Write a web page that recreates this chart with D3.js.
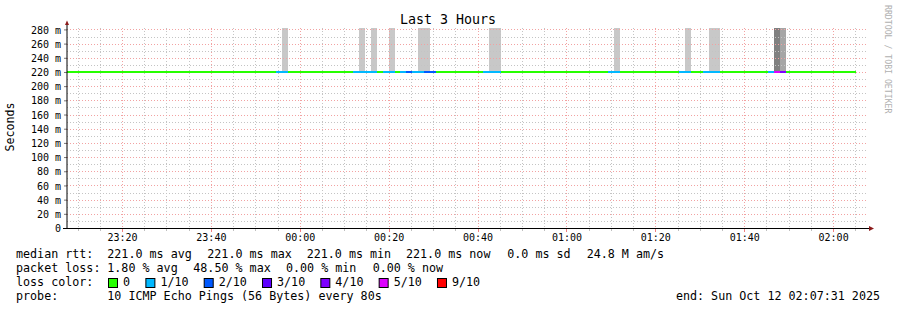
<!DOCTYPE html>
<html lang="en">
<head>
<meta charset="UTF-8">
<title>Last 3 Hours</title>
<script src="https://d3js.org/d3.v7.min.js"></script>
<style>
  body { margin: 0; background: #fff; }
  svg text { font-family: "DejaVu Sans Mono", monospace; white-space: pre; fill: #000; }
</style>
</head>
<body>
<div id="chart"></div>
<script>
// ---- data ----
const startTime = "23:07:31";
const endTime = "02:07:31";
const dataEnd = "02:05:10";
const medianRtt = 221; // ms
const yMax = 282;
const yTicks = [0, 20, 40, 60, 80, 100, 120, 140, 160, 180, 200, 220, 240, 260, 280];
const xTickLabels = ["23:20", "23:40", "00:00", "00:20", "00:40", "01:00", "01:20", "01:40", "02:00"];

// median line, coloured by loss level
const segStart = ["23:07:31", "23:54:40", "23:57:22", "00:12:04", "00:17:24", "00:18:49",
                  "00:21:27", "00:22:34", "00:23:55", "00:25:16", "00:27:58", "00:30:40",
                  "00:41:15", "00:45:17", "01:09:22", "01:12:04", "01:25:21", "01:28:03",
                  "01:30:45", "01:34:34", "01:45:22", "01:46:43", "01:48:04", "01:49:25"];
const segLoss = [0, 1, 0, 1, 0, 1, 0, 1, 2, 1, 2, 0, 1, 0, 1, 0, 1, 0, 1, 0, 1, 5, 4, 0];

// smoke (spread of pings), goes off the top of the graph
const smokeStart = ["23:56:01", "00:13:20", "00:16:02", "00:20:05", "00:26:37", "00:42:35",
                    "01:10:43", "01:26:42", "01:32:06", "01:46:43", "01:48:04"];
const smokeEnd   = ["23:57:22", "00:14:41", "00:17:24", "00:21:27", "00:29:19", "00:45:17",
                    "01:12:04", "01:28:03", "01:34:34", "01:48:04", "01:49:25"];
const smokeTop = 300;
const smokeShade = ["#c8c8c8", "#c8c8c8", "#c8c8c8", "#c8c8c8", "#c8c8c8", "#c8c8c8",
                    "#c8c8c8", "#c8c8c8", "#c8c8c8", "#808080", "#a6a6a6"];

const lossLabels = ["0", "1/10", "2/10", "3/10", "4/10", "5/10", "9/10"];
const lossColors = ["#26ff00", "#00b8ff", "#0059ff", "#5e00ff", "#7e00ff", "#dd00ff", "#ff0000"];

const rttItems = ["median rtt:", "221.0 ms avg", "221.0 ms max", "221.0 ms min", "221.0 ms now", "0.0 ms sd", "24.8 M am/s"];
const rttPos = [16, 107.3, 207.3, 306.7, 406, 507.3, 586.7];
const lossItems = ["packet loss:", "1.80 % avg", "48.50 % max", "0.00 % min", "0.00 % now"];
const lossPos = [16, 107.3, 193.3, 286, 372.7];
const probeItems = ["probe:", "10 ICMP Echo Pings (56 Bytes) every 80s"];
const probePos = [16, 107.3];
const legendEnd = "end: Sun Oct 12 02:07:31 2025";

// times after noon belong to Oct 11, the rest to Oct 12
function toDate(s) {
  const [h, m, sec = 0] = s.split(":").map(Number);
  return new Date(2025, 9, h >= 12 ? 11 : 12, h, m, sec);
}

const W = 897, H = 310;
const svg = d3.select("#chart").append("svg")
  .attr("width", W).attr("height", H);
svg.append("rect").attr("width", W).attr("height", H).attr("fill", "#fff");

const x = d3.scaleTime()
  .domain([toDate(startTime), toDate(endTime)])
  .range([66.5, 866.5]);
const y = d3.scaleLinear().domain([0, yMax]).range([228, 28]).clamp(true);
const px = t => Math.round(x(toDate(t)));

// smoke
svg.append("g").selectAll("rect")
  .data(smokeStart)
  .join("rect")
  .attr("x", d => px(d))
  .attr("width", (d, i) => px(smokeEnd[i]) - px(d))
  .attr("y", Math.round(y(smokeTop)))
  .attr("height", Math.round(y(medianRtt)) - Math.round(y(smokeTop)))
  .attr("fill", (d, i) => smokeShade[i]);

// grid
const grid = svg.append("g").attr("shape-rendering", "crispEdges");
const minorX = d3.timeMinute.every(5).range(toDate(startTime), toDate(endTime));
const majorX = xTickLabels.map(toDate);
const minorY = d3.range(10, yMax, 10);
const minCol = "#c4c4c4", majCol = "#f2a2a2";

grid.selectAll(".vmin").data(minorX.filter(d => d.getMinutes() % 20 !== 0)).join("line")
  .attr("x1", d => Math.round(x(d)) + 0.5).attr("x2", d => Math.round(x(d)) + 0.5)
  .attr("y1", 28).attr("y2", 228)
  .attr("stroke", minCol).attr("stroke-dasharray", "1,2");
grid.selectAll(".hmin").data(minorY.filter(d => d % 20 !== 0)).join("line")
  .attr("x1", 67).attr("x2", 867)
  .attr("y1", d => Math.round(y(d)) + 0.5).attr("y2", d => Math.round(y(d)) + 0.5)
  .attr("stroke", minCol).attr("stroke-dasharray", "1,2");
grid.selectAll(".vmaj").data(majorX).join("line")
  .attr("x1", d => Math.round(x(d)) + 0.5).attr("x2", d => Math.round(x(d)) + 0.5)
  .attr("y1", 28).attr("y2", 228)
  .attr("stroke", majCol).attr("stroke-dasharray", "1,2");
grid.selectAll(".hmaj").data(yTicks.filter(d => d > 0)).join("line")
  .attr("x1", 67).attr("x2", 867)
  .attr("y1", d => Math.round(y(d)) + 0.5).attr("y2", d => Math.round(y(d)) + 0.5)
  .attr("stroke", majCol).attr("stroke-dasharray", "1,2");

// median line
const lineY = Math.round(y(medianRtt)) + 1;
svg.append("g").attr("shape-rendering", "crispEdges").selectAll("line")
  .data(segStart)
  .join("line")
  .attr("x1", d => px(d))
  .attr("x2", (d, i) => px(i + 1 < segStart.length ? segStart[i + 1] : dataEnd))
  .attr("y1", lineY).attr("y2", lineY)
  .attr("stroke", (d, i) => lossColors[segLoss[i]])
  .attr("stroke-width", 2);

// axes
const yAxis = d3.axisLeft(y)
  .tickValues(yTicks)
  .tickSize(3)
  .tickPadding(4)
  .tickFormat(d => d === 0 ? "0" : d + " m");
const gy = svg.append("g").attr("transform", "translate(67,0)").call(yAxis);
gy.select(".domain").remove();
gy.selectAll(".tick line").attr("stroke", "#777");
gy.selectAll(".tick text").attr("font-size", "10px").attr("font-family", "DejaVu Sans Mono")
  .attr("dy", "0.36em").attr("x", -6);

const xAxis = d3.axisBottom(x)
  .tickValues(majorX)
  .tickSize(0)
  .tickPadding(9)
  .tickFormat(d3.timeFormat("%H:%M"));
const gx = svg.append("g").attr("transform", "translate(0,228)").call(xAxis);
gx.select(".domain").remove();
gx.selectAll(".tick text").attr("font-size", "10px").attr("font-family", "DejaVu Sans Mono")
  .attr("dy", "0.36em");

// small ticks under the time axis
svg.append("g").attr("shape-rendering", "crispEdges").selectAll("line")
  .data(minorX).join("line")
  .attr("x1", d => Math.round(x(d)) + 0.5).attr("x2", d => Math.round(x(d)) + 0.5)
  .attr("y1", 229).attr("y2", d => d.getMinutes() % 20 === 0 ? 232 : 231)
  .attr("stroke", d => d.getMinutes() % 20 === 0 ? "#f08080" : "#c0c0c0");

// axis lines and arrows
svg.append("line").attr("x1", 67).attr("x2", 67).attr("y1", 228).attr("y2", 24)
  .attr("stroke", "#000");
svg.append("line").attr("x1", 63).attr("x2", 869).attr("y1", 228.5).attr("y2", 228.5)
  .attr("stroke", "#000");
svg.append("path").attr("d", "M65,25 L67,20.5 L69,25 Z").attr("fill", "#8b1a1a");
svg.append("path").attr("d", "M869,226 L874,228.5 L869,231 Z").attr("fill", "#8b1a1a");

// titles
svg.append("text").attr("x", 448).attr("y", 24).attr("text-anchor", "middle")
  .attr("font-size", "13.3px").text("Last 3 Hours");
svg.append("text").attr("transform", "translate(14,127) rotate(-90)")
  .attr("text-anchor", "middle").attr("font-size", "11.6px").text("Seconds");
svg.append("text").attr("transform", "translate(884.5,5) rotate(90)")
  .attr("font-size", "8.2px").style("fill", "#b0b0b0").text("RRDTOOL / TOBI OETIKER");

// legend
const lg = svg.append("g").attr("font-size", "11.7px");
const row = (items, pos, yy) => items.forEach((t, i) =>
  lg.append("text").attr("x", pos[i]).attr("y", yy).text(t));
row(rttItems, rttPos, 258);
row(lossItems, lossPos, 272);
row(["loss color:"], [16], 286);
row(probeItems, probePos, 300);
lg.append("text").attr("x", 880).attr("y", 300).attr("text-anchor", "end").text(legendEnd);

const charW = 6.98;
let pos = 108;
lossLabels.forEach((lab, i) => {
  lg.append("rect").attr("x", pos + 0.5).attr("y", 278.5).attr("width", 9).attr("height", 9)
    .attr("fill", lossColors[i]).attr("stroke", "#000");
  lg.append("text").attr("x", pos + 15).attr("y", 286).text(lab);
  pos += 30.4 + lab.length * charW;
});
</script>
</body>
</html>
